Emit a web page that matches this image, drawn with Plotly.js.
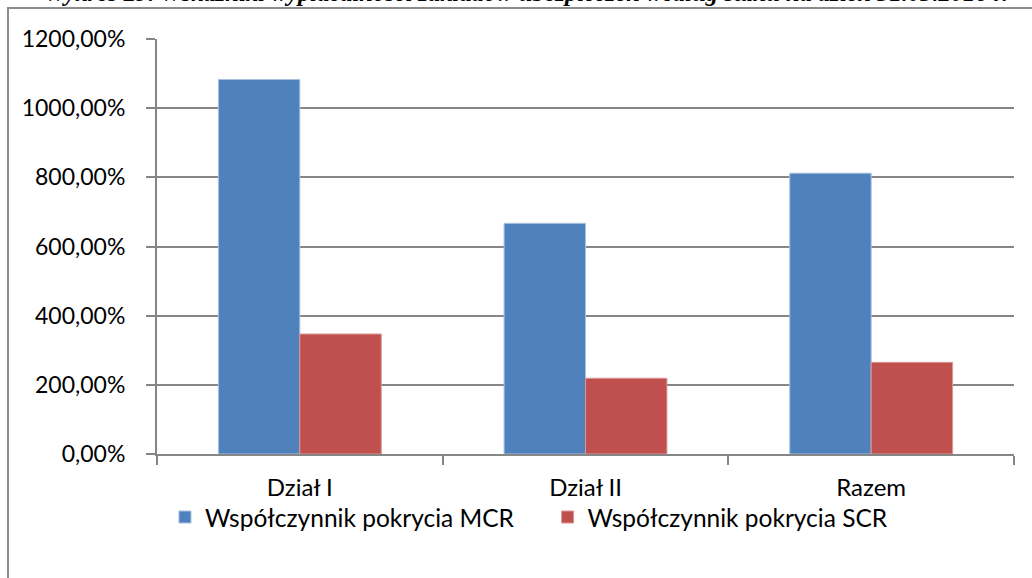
<!DOCTYPE html>
<html><head><meta charset="utf-8">
<script src="https://cdn.plot.ly/plotly-3.0.1.min.js"></script>
<style>
html,body{margin:0;padding:0;background:#fff;overflow:hidden;}
#frame{position:absolute;left:7px;top:7px;width:1040px;height:600px;border-left:2px solid #8c8c8c;border-top:2px solid #8c8c8c;}
#chart{position:absolute;left:0;top:0;width:1032px;height:578px;}
</style></head>
<body>
<div id="frame"></div>
<div id="chart"></div>
<script>
const categories = ["Dział I", "Dział II", "Razem"];
const mcrValues = [1083, 667, 812];
const scrValues = [347, 219, 265];
const seriesNames = ["Współczynnik pokrycia MCR", "Współczynnik pokrycia SCR"];
const tickVals = [0, 200, 400, 600, 800, 1000, 1200];
const tickText = ["0,00%", "200,00%", "400,00%", "600,00%", "800,00%", "1000,00%", "1200,00%"];
const titleText = "Wykres 29. Wskaźniki wypłacalności zakładów ubezpieczeń według stanu na dzień 31.03.2016 r.";

const font = "Lato, 'Open Sans', sans-serif";
const data = [
  {type:'bar', x:categories, y:mcrValues, name:seriesNames[0], legend:'legend', marker:{color:'#4f81bd', line:{color:'#a9c1e0', width:1}}},
  {type:'bar', x:categories, y:scrValues, name:seriesNames[1], legend:'legend2', marker:{color:'#c0504d', line:{color:'#d99694', width:1}}}
];
const legendBase = {orientation:'h', xanchor:'left', y:-0.152, yanchor:'middle', font:{family:font, size:24.5, color:'#000'}, itemwidth:30, bgcolor:'rgba(0,0,0,0)'};
const layout = {
  width:1032, height:578,
  margin:{l:157, r:18, t:39, b:124},
  paper_bgcolor:'rgba(0,0,0,0)', plot_bgcolor:'rgba(0,0,0,0)',
  barmode:'group', bargap:0.43, bargroupgap:0,
  annotations:[{text:titleText, font:{family:"'Liberation Serif', serif", size:24.5, color:'#000', weight:'bold', style:'italic'},
    xref:'paper', yref:'paper', x:0.43, xanchor:'center', y:1.111, yanchor:'middle', showarrow:false}],
  xaxis:{showline:true, linecolor:'#868686', linewidth:2, ticks:'outside', tickcolor:'#868686', ticklen:9, tickwidth:2,
         tickson:'boundaries', ticklabelstandoff:11, tickfont:{family:font, size:24, color:'#000'}, showgrid:false},
  yaxis:{range:[0,1200], tickvals:tickVals, ticktext:tickText, showline:true, linecolor:'#868686', linewidth:2,
         ticks:'outside', tickcolor:'#868686', ticklen:9, tickwidth:2, gridcolor:'#868686', gridwidth:2,
         ticklabelstandoff:16, tickfont:{family:font, size:23, color:'#000'}, zeroline:false},
  showlegend:true,
  legend:Object.assign({}, legendBase, {x:0.0093}),
  legend2:Object.assign({}, legendBase, {x:0.4558}),
};
Plotly.newPlot('chart', data, layout, {displayModeBar:false, staticPlot:true});
</script>
</body></html>
